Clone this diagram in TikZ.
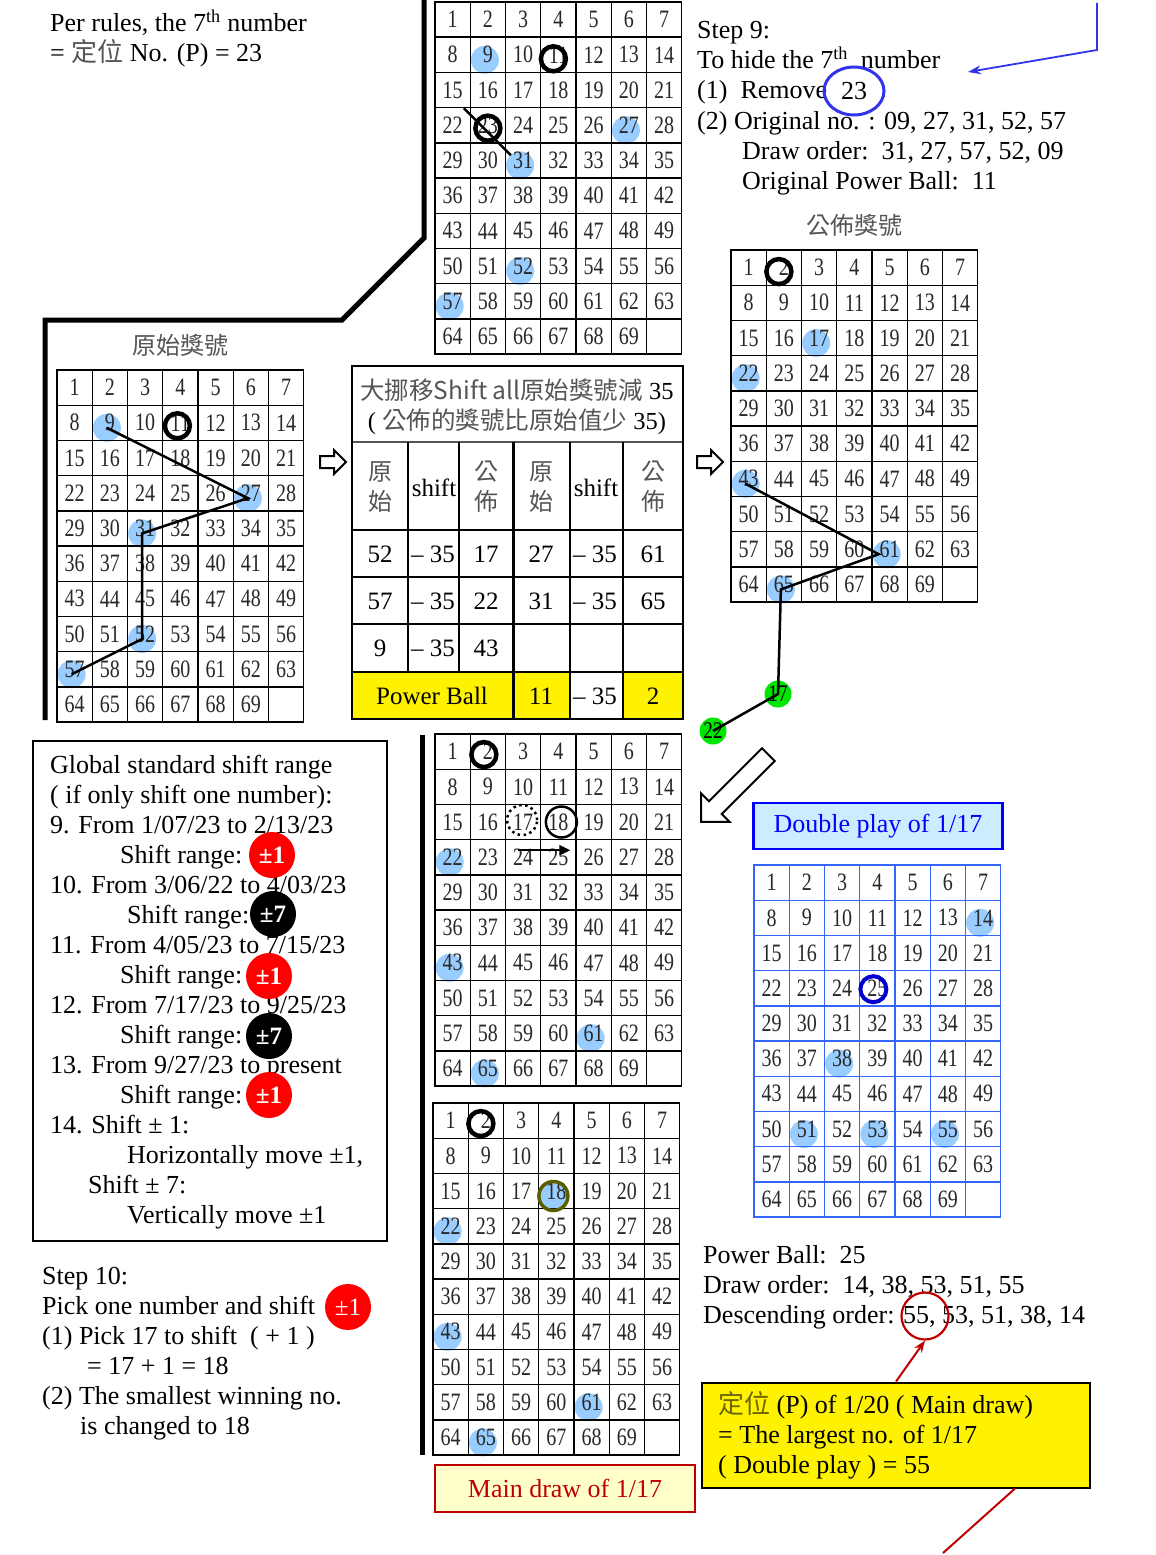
\documentclass[tikz,border=0pt]{standalone}
\usepackage{fontspec}
\setmainfont{Liberation Serif}
\newfontfamily\cjk{Noto Sans CJK TC}
\newfontfamily\gridfont[FakeStretch=0.8]{Liberation Serif}
\usetikzlibrary{positioning,arrows.meta,shapes.arrows,shapes.geometric}
\definecolor{ballblue}{RGB}{153,204,255}
\definecolor{gridblue}{RGB}{51,102,255}
\definecolor{ringblue}{RGB}{0,0,204}
\definecolor{penblue}{RGB}{51,51,238}
\definecolor{olivering}{RGB}{92,92,0}
\definecolor{darkred}{RGB}{192,0,0}
\definecolor{paleyellow}{RGB}{255,255,204}
\definecolor{paleblue}{RGB}{204,236,255}
\definecolor{ballgreen}{RGB}{0,230,0}
\definecolor{cjkgray}{RGB}{85,85,85}
\definecolor{numgray}{RGB}{40,40,40}
\definecolor{olivetxt}{RGB}{110,100,0}
\pgfdeclarelayer{background}
\pgfsetlayers{background,main}

\newcommand{\zh}[1]{{\cjk\color{cjkgray}#1}}
\newcommand{\lottogrid}[4]{%
  \foreach \n in {1,...,70}{%
    \pgfmathtruncatemacro{\cellc}{mod(\n-1,7)}%
    \pgfmathtruncatemacro{\cellr}{div(\n-1,7)}%
    \ifnum\n<70
      \node[cell,draw=#4] (#1-\n) at ({#2+(\cellc+0.5)*35.25},{#3+(\cellr+0.5)*35.2}) {\n};
    \else
      \node[cell,draw=#4] (#1-\n) at ({#2+(\cellc+0.5)*35.25},{#3+(\cellr+0.5)*35.2}) {};
    \fi
  }%
}
\newcommand{\blueball}[2]{\node[ball] (#1-b#2) at ([shift={(-3,5)}]#1-#2.center) {};}

\begin{document}
\begin{tikzpicture}[x=1pt,y=-1pt,
  cell/.style={rectangle,minimum width=35.25pt,minimum height=35.2pt,inner sep=0pt,line width=1.4pt,text=numgray,font=\gridfont\fontsize{25}{25}\selectfont},
  ball/.style={circle,fill=ballblue,minimum size=28pt,inner sep=0pt},
  ring/.style={circle,draw,line width=4.5pt,minimum size=25pt,inner sep=0pt},
  hit/.style={circle,fill=ballgreen,minimum size=27pt,inner sep=0pt,font=\gridfont\fontsize{24}{24}\selectfont},
  txt/.style={anchor=base west,inner sep=0pt,font=\fontsize{26}{30}\selectfont},
  badge/.style={circle,fill=red,text=white,minimum size=46pt,inner sep=0pt,font=\fontsize{25}{25}\selectfont\bfseries},
  tnum/.style={inner sep=0pt,font=\fontsize{25}{30}\selectfont},
  thead/.style={inner sep=0pt,align=center,text=cjkgray,font=\cjk\fontsize{24}{30}\selectfont},
  tline/.style={line width=1.3pt},
  trail/.style={line width=2.5pt},
  divider/.style={line width=5pt},
  hollow/.style={single arrow,draw,fill=white,line width=2pt,inner sep=5pt,single arrow head extend=6pt,minimum height=26pt}]

\begin{pgfonlayer}{background}
\fill[white] (0,0) rectangle (1156,1555);
\end{pgfonlayer}
\useasboundingbox (0,0) rectangle (1156,1555);

\draw[divider] (45,720) -- (45,320) -- (342,320) -- (424,238) -- (424,0);
\draw[divider] (422,735) -- (422,1455);

\lottogrid{A}{435}{2}{black}
\lottogrid{B}{57}{370}{black}
\lottogrid{C}{731}{250}{black}
\lottogrid{D}{435}{734}{black}
\lottogrid{E}{433}{1103}{black}
\lottogrid{F}{754}{865}{gridblue}

\begin{pgfonlayer}{background}
\foreach \n in {9,27,31,52,57}{\blueball{A}{\n}\blueball{B}{\n}}
\foreach \n in {17,22,43,61,65}{\blueball{C}{\n}}
\foreach \n in {22,43,61,65}{\blueball{D}{\n}\blueball{E}{\n}}
\foreach \n in {18}{\blueball{E}{\n}}
\foreach \n in {14,38,51,53,55}{\blueball{F}{\n}}
\end{pgfonlayer}

\node[thead] (B-title) [above=13pt of B-4] {原始獎號};
\node[thead] (C-title) [above=13pt of C-4] {公佈獎號};

\node[ring] (A-r11) at ([shift={(-5,4)}]A-11.center) {};
\node[ring] (A-r23) at ([shift={(0,3)}]A-23.center) {};
\draw[trail] ([shift={(-24,-17)}]A-23.center) -- ([shift={(23,30)}]A-23.center);

\node[ring] (B-r11) at ([shift={(-3,3)}]B-11.center) {};
\draw[trail] (B-b9.center) -- (B-b27.center) -- (B-b31.center) -- (B-b52.center) -- (B-b57.center);

\node[ring] (C-r2) at ([shift={(-5,4)}]C-2.center) {};
\node[hit] (g17) at (778,694) {17};
\node[hit] (g22) at (713,731) {22};
\draw[trail] (C-b43.center) -- ([xshift=-8pt]C-b61.center) -- (C-b65.center) -- (g17.center) -- (g22.center);

\node[ring] (D-r2) at ([shift={(-4,3)}]D-2.center) {};
\node[circle,draw,line width=2.5pt,dash pattern=on 2.5pt off 3.5pt,minimum size=30pt,inner sep=0pt] (D-r17) at ([shift={(-1,-2)}]D-17.center) {};
\node[circle,draw,line width=2.5pt,minimum size=31pt,inner sep=0pt] (D-r18) at ([shift={(3,0)}]D-18.center) {};
\draw[line width=2.5pt,-{Triangle[length=11pt,width=10pt]}] ([shift={(-5,-7)}]D-24.center) -- ([shift={(12,-7)}]D-25.center);

\node[ring] (E-r2) at ([shift={(-5,3)}]E-2.center) {};
\node[ring,draw=olivering,line width=3.5pt,minimum size=29pt] (E-r18) at (E-b18.center) {};

\node[ring,draw=ringblue,line width=4pt,minimum size=26pt] (F-r25) at ([shift={(-4,1)}]F-25.center) {};

\fill[yellow] (352,672) rectangle (570,719);
\fill[yellow] (623,672) rectangle (683,719);
\draw[line width=2pt,cjkgray] (352,442) -- (683,442);
\draw[tline] (352,530) -- (683,530) (352,577) -- (683,577) (352,624) -- (683,624) (352,672) -- (683,672);
\draw[tline] (408,442) -- (408,672) (459,442) -- (459,672) (570,442) -- (570,719) (623,442) -- (623,719);
\draw[line width=3pt] (513,442) -- (513,719);
\draw[line width=2.5pt] (352,366) rectangle (683,719);
\node[tnum,font=\fontsize{24.5}{24.5}\selectfont] (ttl1) at (517,390) {\zh{大挪移Shift all原始獎號減} 35};
\node[tnum,font=\fontsize{24.5}{24.5}\selectfont] (ttl2) at (517,422) {( \zh{公佈的獎號比原始值少} 35)};
\node[thead] (h1) at (380,487) {原\\始};
\node[tnum] (h2) at (434,488) {shift};
\node[thead] (h3) at (486,487) {公\\佈};
\node[thead] (h4) at (541,487) {原\\始};
\node[tnum] (h5) at (596,488) {shift};
\node[thead] (h6) at (653,487) {公\\佈};
\node[tnum] (r1a) at (380,554) {52};
\node[tnum,anchor=west] (r1b) at (411,554) {– 35};
\node[tnum] (r1c) at (486,554) {17};
\node[tnum] (r1d) at (541,554) {27};
\node[tnum,anchor=west] (r1e) at (573,554) {– 35};
\node[tnum] (r1f) at (653,554) {61};
\node[tnum] (r2a) at (380,601) {57};
\node[tnum,anchor=west] (r2b) at (411,601) {– 35};
\node[tnum] (r2c) at (486,601) {22};
\node[tnum] (r2d) at (541,601) {31};
\node[tnum,anchor=west] (r2e) at (573,601) {– 35};
\node[tnum] (r2f) at (653,601) {65};
\node[tnum] (r3a) at (380,648) {9};
\node[tnum,anchor=west] (r3b) at (411,648) {– 35};
\node[tnum] (r3c) at (486,648) {43};
\node[tnum] (pb) at (432,696) {Power Ball};
\node[tnum] (pb1) at (541,696) {11};
\node[tnum,anchor=west] (pb2) at (573,696) {– 35};
\node[tnum] (pb3) at (653,696) {2};

\node[hollow] (ar1) at (330,462) {};
\node[hollow] (ar2) at (707,462) {};
\node[single arrow,draw,fill=white,line width=2pt,inner sep=8pt,single arrow head extend=11pt,minimum height=95pt,rotate=225] (ar3) at (738,785) {};

\node[txt] (p1) at (50,32) {Per rules, the 7\textsuperscript{th} number};
\node[txt] (p2) at (50,62) {= {\cjk\color{cjkgray}定位} No. (P) = 23};

\node[txt] (s1) at (697,39) {Step 9:};
\node[txt] (s2) at (697,69) {To hide the 7\textsuperscript{th}\ \ number};
\node[txt] (s3) at (697,99) {(1)\ \ Remove};
\node[ellipse,draw=penblue,line width=3pt,minimum width=60pt,minimum height=48pt,inner sep=0pt,font=\fontsize{26}{30}\selectfont] (ell) at (854,91) {23};
\node[txt] (s4) at (697,129) {(2) Original no. : 09, 27, 31, 52, 57};
\node[txt] (s5) at (742,159) {Draw order:\ \ 31, 27, 57, 52, 09};
\node[txt] (s6) at (742,189) {Original Power Ball:\ \ 11};
\coordinate (bt) at (1097,3);
\coordinate (bk) at (1097,50);
\coordinate (bh) at (968,72);
\draw[penblue,line width=1.8pt,-{Stealth[length=13pt,width=9pt]}] (bt) -- (bk) -- (bh);

\node[draw,line width=2pt,minimum width=354pt,minimum height=500pt,inner sep=0pt] (gbox) at (210,991) {};
\node[txt] (g1) at (50,773) {Global standard shift range};
\node[txt] (g2) at (50,803) {( if only shift one number):};
\node[txt] (g3) at (50,833) {9. From 1/07/23 to 2/13/23};
\node[txt] (g4) at (120,863) {Shift range:};
\node[txt] (g5) at (50,893) {10. From 3/06/22 to 4/03/23};
\node[txt] (g6) at (127,923) {Shift range:};
\node[txt] (g7) at (50,953) {11. From 4/05/23 to 7/15/23};
\node[txt] (g8) at (120,983) {Shift range:};
\node[txt] (g9) at (50,1013) {12. From 7/17/23 to 9/25/23};
\node[txt] (g10) at (120,1043) {Shift range:};
\node[txt] (g11) at (50,1073) {13. From 9/27/23 to present};
\node[txt] (g12) at (120,1103) {Shift range:};
\node[txt] (g13) at (50,1133) {14. Shift ± 1:};
\node[txt] (g14) at (127,1163) {Horizontally move ±1,};
\node[txt] (g15) at (88,1193) {Shift ± 7:};
\node[txt] (g16) at (127,1223) {Vertically move ±1};
\node[badge] (k1) at (272,855) {±1};
\node[badge,fill=black] (k2) at (273,914) {±7};
\node[badge] (k3) at (269,976) {±1};
\node[badge,fill=black] (k4) at (269,1036) {±7};
\node[badge] (k5) at (269,1095) {±1};

\node[txt] (t1) at (42,1284) {Step 10:};
\node[txt] (t2) at (42,1314) {Pick one number and shift};
\node[badge,font=\fontsize{25}{25}\selectfont] (k6) at (348,1307) {±1};
\node[txt] (t3) at (42,1344) {(1) Pick 17 to shift\ \ ( + 1 )};
\node[txt] (t4) at (87,1374) {= 17 + 1 = 18};
\node[txt] (t5) at (42,1404) {(2) The smallest winning no.};
\node[txt] (t6) at (80,1434) {is changed to 18};

\node[draw=darkred,fill=paleyellow,line width=2pt,text=darkred,minimum width=260pt,minimum height=47pt,font=\fontsize{26}{30}\selectfont] (mbox) at (565,1488) {Main draw of 1/17};
\node[draw=blue,fill=paleblue,line width=2.5pt,text=blue,minimum width=249pt,minimum height=46pt,font=\fontsize{26}{30}\selectfont] (dbox) at (878,826) {Double play of 1/17};

\node[txt] (w1) at (703,1263) {Power Ball:\ \ 25};
\node[txt] (w2) at (703,1293) {Draw order:\ \ 14, 38, 53, 51, 55};
\node[txt] (w3) at (703,1323) {Descending order: 55, 53, 51, 38, 14};
\node[circle,draw=darkred,line width=2.2pt,minimum size=47pt,inner sep=0pt] (rc) at (925,1316) {};

\node[draw,fill=yellow,line width=2pt,minimum width=388pt,minimum height=105pt,inner sep=0pt] (pbox) at (896,1435) {};
\node[txt] (y1) at (718,1413) {{\cjk\color{olivetxt}定位} (P) of 1/20 ( Main draw)};
\node[txt] (y2) at (718,1443) {= The largest no. of 1/17};
\node[txt] (y3) at (718,1473) {( Double play ) = 55};
\draw[darkred,line width=2pt,-{Stealth[length=12pt,width=9pt]}] (pbox.north) -- (rc.south);
\coordinate (rt) at (943,1553);
\draw[darkred,line width=2pt] ([xshift=119pt]pbox.south) -- (rt);
\end{tikzpicture}
\end{document}
